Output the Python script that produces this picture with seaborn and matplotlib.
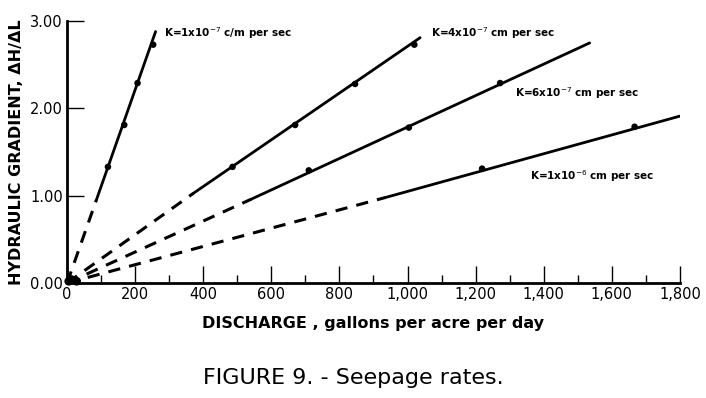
import seaborn as sns
import matplotlib.pyplot as plt
import numpy as np

# values
k1_pts_x = [120, 168, 207, 253]
k1_pts_y = [1.33, 1.81, 2.29, 2.73]
k1_line_x = [0, 86, 260]
k1_line_y = [0.0, 0.95, 2.88]

k4_pts_x = [486, 670, 846, 1020]
k4_pts_y = [1.33, 1.81, 2.28, 2.73]
k4_line_x = [0, 372, 1037]
k4_line_y = [0.0, 1.03, 2.81]

k6_pts_x = [710, 1004, 1272]
k6_pts_y = [1.29, 1.78, 2.29]
k6_line_x = [0, 541, 1535]
k6_line_y = [0.0, 0.96, 2.75]

k10_pts_x = [1219, 1667]
k10_pts_y = [1.31, 1.79]
k10_line_x = [0, 936, 1808]
k10_line_y = [0.0, 0.98, 1.92]

origin_x = [5, 12, 20, 28]
origin_y = [0.02, 0.04, 0.03, 0.02]

labels = [r"K=1x10$^{-7}$ c/m per sec", r"K=4x10$^{-7}$ cm per sec",
          r"K=6x10$^{-7}$ cm per sec", r"K=1x10$^{-6}$ cm per sec"]
label_x = [285, 1068, 1315, 1359]
label_y = [2.86, 2.86, 2.18, 1.22]

xticks = list(range(0, 1801, 200))
xtick_labels = ["0", "200", "400", "600", "800", "1,000", "1,200", "1,400", "1,600", "1,800"]
yticks = [0, 1, 2, 3]
ytick_labels = ["0.00", "1.00", "2.00", "3.00"]

sns.set_style("ticks")
plt.rcParams['font.family'] = ['DejaVu Sans']
plt.rcParams['text.color'] = 'black'
plt.rcParams['axes.labelcolor'] = 'black'
plt.rcParams['xtick.color'] = 'black'
plt.rcParams['ytick.color'] = 'black'
plt.rcParams['axes.edgecolor'] = 'black'

fig = plt.figure(figsize=(7.06, 3.98), dpi=100)
ax = fig.add_axes([0.095, 0.289, 0.868, 0.658])

lines = [(k1_line_x, k1_line_y, k1_pts_x, k1_pts_y),
         (k4_line_x, k4_line_y, k4_pts_x, k4_pts_y),
         (k6_line_x, k6_line_y, k6_pts_x, k6_pts_y),
         (k10_line_x, k10_line_y, k10_pts_x, k10_pts_y)]

for lx, ly, px, py in lines:
    sns.lineplot(x=lx[:2], y=ly[:2], ax=ax, color="black", linewidth=2.2,
                 linestyle=(0, (4, 3)))
    sns.lineplot(x=lx[1:], y=ly[1:], ax=ax, color="black", linewidth=2)
    sns.scatterplot(x=px, y=py, ax=ax, color="black", s=22, edgecolor="none")

sns.scatterplot(x=origin_x, y=origin_y, ax=ax, color="black", s=40,
                edgecolor="none", clip_on=False)

for t, x, y in zip(labels, label_x, label_y):
    ax.text(x, y, t, fontsize=7.5, fontweight="bold", va="center", ha="left")

ax.set_xlim(0, 1800)
ax.set_ylim(0, 3.0)
ax.set_xticks(xticks)
ax.set_xticklabels(xtick_labels)
ax.set_xticks(range(100, 1800, 200), minor=True)
ax.set_yticks(yticks)
ax.set_yticklabels(ytick_labels)
ax.tick_params(axis="both", which="major", direction="in", length=12,
               width=1, labelsize=10.5, pad=3)
ax.tick_params(axis="x", which="minor", direction="in", length=6, width=1)
sns.despine(ax=ax)
for s in ["left", "bottom"]:
    ax.spines[s].set_linewidth(2)

ax.set_xlabel("DISCHARGE , gallons per acre per day", fontsize=11.5,
              fontweight="bold", labelpad=10)
ax.set_ylabel("HYDRAULIC GRADIENT, ΔH/ΔL", fontsize=11.5,
              fontweight="bold", labelpad=4)
fig.text(0.50, 0.05, "FIGURE 9. - Seepage rates.", fontsize=16,
         ha="center", va="center")

fig.savefig("out.png", dpi=100)
